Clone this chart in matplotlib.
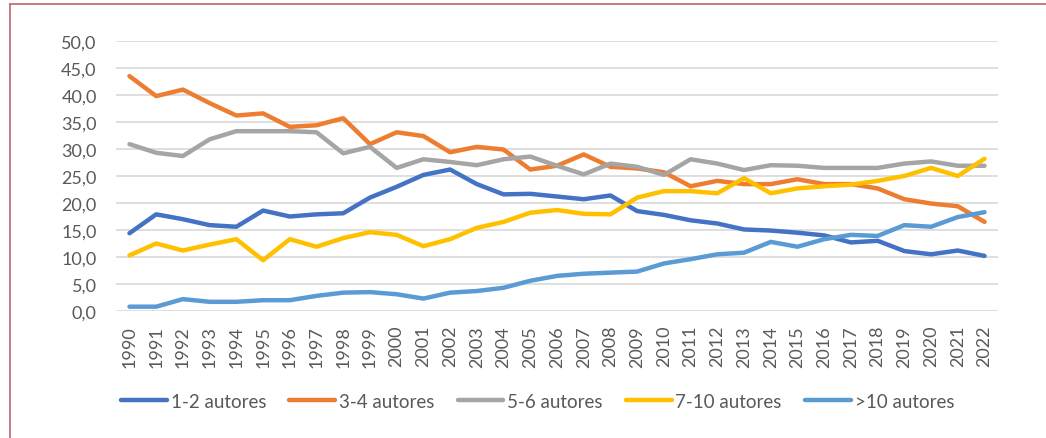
import matplotlib.pyplot as plt
from matplotlib.lines import Line2D
from matplotlib.ticker import FuncFormatter
import numpy as np

plt.rcParams['font.family'] = ['Lato', 'DejaVu Sans']

years = list(range(1990, 2023))
a12 = [14.4, 17.9, 17.0, 15.9, 15.6, 18.6, 17.5, 17.9, 18.1, 21.0, 23.0,
       25.2, 26.2, 23.5, 21.6, 21.7, 21.2, 20.7, 21.4, 18.5, 17.8,
       16.8, 16.2, 15.1, 14.9, 14.5, 14.0, 12.7, 13.0, 11.1, 10.5, 11.2, 10.2]
a34 = [43.5, 39.8, 41.0, 38.5, 36.2, 36.6, 34.1, 34.4, 35.7, 30.9, 33.1,
       32.4, 29.4, 30.4, 29.9, 26.2, 26.9, 29.0, 26.7, 26.4, 25.7,
       23.1, 24.1, 23.5, 23.5, 24.4, 23.5, 23.5, 22.7, 20.7, 19.9, 19.4, 16.5]
a56 = [30.9, 29.3, 28.7, 31.8, 33.3, 33.3, 33.3, 33.1, 29.2, 30.4, 26.5,
       28.1, 27.6, 27.0, 28.1, 28.6, 26.9, 25.3, 27.3, 26.7, 25.2,
       28.1, 27.3, 26.1, 27.0, 26.9, 26.5, 26.5, 26.5, 27.3, 27.7, 26.9, 26.9]
a710 = [10.3, 12.5, 11.2, 12.3, 13.3, 9.4, 13.3, 11.9, 13.5, 14.6, 14.1,
        12.0, 13.3, 15.4, 16.5, 18.2, 18.7, 18.0, 17.9, 21.0, 22.2,
        22.2, 21.8, 24.6, 21.8, 22.7, 23.1, 23.4, 24.1, 25.0, 26.5, 25.0, 28.2]
a10p = [0.8, 0.8, 2.2, 1.7, 1.7, 2.0, 2.0, 2.8, 3.4, 3.5, 3.1,
        2.3, 3.4, 3.7, 4.3, 5.6, 6.5, 6.9, 7.1, 7.3, 8.8,
        9.6, 10.5, 10.8, 12.8, 11.9, 13.3, 14.1, 13.9, 15.9, 15.6, 17.4, 18.3]

series = [a12, a34, a56, a710, a10p]
labels = ['1-2 autores', '3-4 autores', '5-6 autores', '7-10 autores', '>10 autores']
colors = ['#4472C4', '#ED7D31', '#A5A5A5', '#FFC000', '#5B9BD5']

fig = plt.figure(figsize=(10.46, 4.39), dpi=100)
ax = fig.add_axes([0.111, 0.2893, 0.843, 0.615])

x = np.arange(len(years))
for s, lab, c in zip(series, labels, colors):
    ax.plot(x, s, color=c, linewidth=3.2, label=lab, solid_capstyle='round')

ax.set_xlim(-0.5, len(years) - 0.5)
ax.set_ylim(0, 50)
ax.set_yticks(np.arange(0, 51, 5))
ax.yaxis.set_major_formatter(FuncFormatter(lambda v, p: f'{v:.1f}'.replace('.', ',')))
ax.set_xticks(x)
ax.set_xticklabels([str(y) for y in years], rotation=90)
ax.grid(axis='y', color='#d9d9d9', linewidth=1.2)
ax.set_axisbelow(True)
for sp in ax.spines.values():
    sp.set_visible(False)
ax.tick_params(axis='both', length=0, labelcolor='#595959', labelsize=13)
ax.tick_params(axis='y', pad=14)
ax.tick_params(axis='x', pad=10)

fig.legend(loc='center', bbox_to_anchor=(0.514, 0.084), ncol=5, frameon=False,
           fontsize=13.5, handlelength=2.45, handletextpad=0.2, columnspacing=1.23,
           labelcolor='#595959')

# marco del gráfico (solo visibles borde izquierdo y superior)
fig.add_artist(Line2D([0.0091, 0.0091], [0, 0.9875], transform=fig.transFigure,
                      color='#c0646e', linewidth=1.2))
fig.add_artist(Line2D([0.0091, 1.0], [0.9875, 0.9875], transform=fig.transFigure,
                      color='#c0646e', linewidth=1.2))

fig.savefig('out.png', dpi=100)
